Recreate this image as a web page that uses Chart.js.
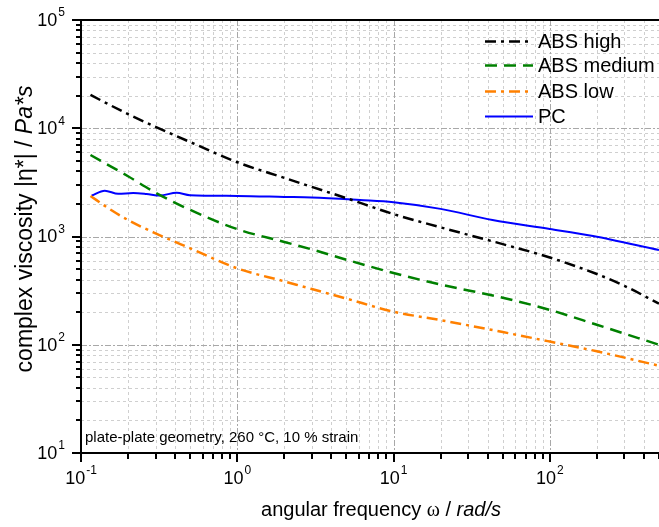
<!DOCTYPE html>
<html><head><meta charset="utf-8">
<script src="https://cdn.jsdelivr.net/npm/chart.js@4.4.0/dist/chart.umd.min.js"></script>
<style>html,body{margin:0;padding:0;background:#fff;overflow:hidden}canvas{display:block}</style>
</head><body>
<canvas id="c" width="659" height="527"></canvas>
<script>
// ---- data ----
const seriesNames = ["ABS high", "ABS medium", "ABS low", "PC"];

const absHighFreq = [0.115, 0.2, 0.3, 0.5, 1, 2, 3, 5, 10, 20, 50, 100, 200, 300, 500];
const absHighVisc = [20300, 13500, 10300, 7450, 4850, 3480, 2870, 2260, 1610, 1215, 850, 640, 450, 350, 240];

const absMedFreq = [0.115, 0.2, 0.3, 0.5, 1, 2, 3, 5, 10, 20, 50, 100, 200, 500];
const absMedVisc = [5660, 3600, 2540, 1760, 1170, 890, 760, 610, 460, 360, 272, 210, 153, 100];

const absLowFreq = [0.115, 0.15, 0.2, 0.3, 0.5, 1, 2, 3, 5, 10, 20, 50, 100, 200, 500];
const absLowVisc = [2370, 1820, 1420, 1070, 778, 508, 385, 327, 267, 202, 169, 131, 107, 87, 64];

const pcFreq = [0.117, 0.142, 0.173, 0.216, 0.263, 0.32, 0.409, 0.498, 1, 2, 3, 6.1, 10, 20, 43, 100, 189, 500];
const pcVisc = [2390, 2650, 2480, 2520, 2470, 2390, 2540, 2410, 2370, 2320, 2290, 2170, 2075, 1800, 1420, 1175, 1010, 750];

const xDecades = [0.1, 1, 10, 100];
const yDecades = [10, 100, 1000, 10000, 100000];
const xTickLabels = [["10", "-1"], ["10", "0"], ["10", "1"], ["10", "2"]];
const yTickLabels = [["10", "1"], ["10", "2"], ["10", "3"], ["10", "4"], ["10", "5"]];

const xTitle = ["angular frequency ", "ω", " / ", "rad/s"];
const yTitle = ["complex viscosity |η*| / ", "Pa*s"];
const noteText = "plate-plate geometry, 260 °C, 10 % strain";

// ---- build ----
function pts(xs, ys) { return xs.map((x, i) => ({ x: x, y: ys[i] })); }

const styles = [
  { color: "#000000", dash: [11, 5, 3, 5] },
  { color: "#008000", dash: [12, 7] },
  { color: "#ff8000", dash: [11, 5, 3, 5] },
  { color: "#0000ff", dash: [] }
];
const seriesData = [pts(absHighFreq, absHighVisc), pts(absMedFreq, absMedVisc), pts(absLowFreq, absLowVisc), pts(pcFreq, pcVisc)];

const datasets = seriesNames.map((n, i) => ({
  label: n,
  data: seriesData[i],
  borderColor: styles[i].color,
  backgroundColor: styles[i].color,
  borderDash: styles[i].dash,
  borderWidth: i === 3 ? 2 : 2.5,
  pointRadius: 0,
  cubicInterpolationMode: "monotone",
  fill: false
}));

function minorValues(lo, hi) {
  const out = [];
  for (let d = lo; d < hi; d *= 10) for (let k = 2; k <= 9; k++) { const v = d * k; if (v <= hi) out.push(v); }
  return out;
}

const FONT = "'Liberation Sans', Arial, sans-serif";

const decor = {
  id: "decor",
  beforeDatasetsDraw(chart) {
    const { ctx, chartArea: a, scales: { x, y } } = chart;
    ctx.save();
    ctx.beginPath(); ctx.rect(a.left, a.top, a.right - a.left, a.bottom - a.top); ctx.clip();
    ctx.lineWidth = 1;
    ctx.strokeStyle = "#cfcfcf"; ctx.setLineDash([3, 3]);
    minorValues(0.1, 500).forEach(v => { const p = Math.round(x.getPixelForValue(v)) + 0.5; ctx.beginPath(); ctx.moveTo(p, a.top); ctx.lineTo(p, a.bottom); ctx.stroke(); });
    minorValues(10, 100000).forEach(v => { const p = Math.round(y.getPixelForValue(v)) + 0.5; ctx.beginPath(); ctx.moveTo(a.left, p); ctx.lineTo(a.right, p); ctx.stroke(); });
    ctx.strokeStyle = "#a8a8a8"; ctx.setLineDash([6, 2, 2, 2]);
    xDecades.forEach(v => { const p = Math.round(x.getPixelForValue(v)) + 0.5; ctx.beginPath(); ctx.moveTo(p, a.top); ctx.lineTo(p, a.bottom); ctx.stroke(); });
    yDecades.forEach(v => { const p = Math.round(y.getPixelForValue(v)) + 0.5; ctx.beginPath(); ctx.moveTo(a.left, p); ctx.lineTo(a.right, p); ctx.stroke(); });
    ctx.restore();
  },
  afterDatasetsDraw(chart) {
    const { ctx, chartArea: a, scales: { x, y } } = chart;
    ctx.save();
    ctx.setLineDash([]);
    ctx.strokeStyle = "#000"; ctx.lineWidth = 2;
    ctx.beginPath(); ctx.moveTo(a.left, a.top); ctx.lineTo(a.left, a.bottom); ctx.lineTo(a.right, a.bottom); ctx.stroke();
    ctx.beginPath(); ctx.moveTo(a.left, a.top); ctx.lineTo(a.right, a.top); ctx.stroke();
    minorValues(0.1, 500).forEach(v => { const p = Math.round(x.getPixelForValue(v)); ctx.beginPath(); ctx.moveTo(p, a.bottom); ctx.lineTo(p, a.bottom + 6); ctx.stroke(); });
    xDecades.forEach(v => { const p = Math.round(x.getPixelForValue(v)); ctx.beginPath(); ctx.moveTo(p, a.bottom); ctx.lineTo(p, a.bottom + 9); ctx.stroke(); });
    minorValues(10, 100000).forEach(v => { const p = Math.round(y.getPixelForValue(v)); ctx.beginPath(); ctx.moveTo(a.left, p); ctx.lineTo(a.left - 5, p); ctx.stroke(); });
    yDecades.forEach(v => { const p = Math.round(y.getPixelForValue(v)); ctx.beginPath(); ctx.moveTo(a.left, p); ctx.lineTo(a.left - 9, p); ctx.stroke(); });
    // tick labels
    ctx.fillStyle = "#000"; ctx.textBaseline = "middle";
    const big = "18px " + FONT, small = "12px " + FONT;
    xDecades.forEach((v, i) => {
      const p = x.getPixelForValue(v);
      ctx.font = big; const w1 = ctx.measureText(xTickLabels[i][0]).width;
      ctx.font = small; const w2 = ctx.measureText(xTickLabels[i][1]).width;
      const left = p - (w1 + w2 + 1) / 2;
      ctx.textAlign = "left";
      ctx.font = big; ctx.fillText(xTickLabels[i][0], left, a.bottom + 26);
      ctx.font = small; ctx.fillText(xTickLabels[i][1], left + w1 + 1, a.bottom + 18);
    });
    yDecades.forEach((v, i) => {
      const p = y.getPixelForValue(v);
      ctx.font = small; const w2 = ctx.measureText(yTickLabels[i][1]).width;
      const right = a.left - 16;
      ctx.textAlign = "right";
      ctx.fillText(yTickLabels[i][1], right, p - 7);
      ctx.font = big; ctx.fillText(yTickLabels[i][0], right - w2 - 1, p + 1);
    });
    // x title
    const tf = "20px " + FONT, tfi = "italic 20px " + FONT, tfs = "20px 'Liberation Serif', 'Times New Roman', serif";
    const parts = [[xTitle[0], tf], [xTitle[1], tfs], [xTitle[2], tf], [xTitle[3], tfi]];
    let tot = 0; parts.forEach(pp => { ctx.font = pp[1]; tot += ctx.measureText(pp[0]).width; });
    let cx = 381 - tot / 2; ctx.textAlign = "left"; ctx.textBaseline = "alphabetic";
    parts.forEach(pp => { ctx.font = pp[1]; ctx.fillText(pp[0], cx, 516); cx += ctx.measureText(pp[0]).width; });
    // y title (rotated)
    ctx.save();
    ctx.translate(32, 229); ctx.rotate(-Math.PI / 2);
    const yf = "23px " + FONT, yfi = "italic 23px " + FONT;
    ctx.font = yf; const yw1 = ctx.measureText(yTitle[0]).width;
    ctx.font = yfi; const yw2 = ctx.measureText(yTitle[1]).width;
    let sx = -(yw1 + yw2) / 2;
    ctx.font = yf; ctx.fillText(yTitle[0], sx, 0);
    ctx.font = yfi; ctx.fillText(yTitle[1], sx + yw1, 0);
    ctx.restore();
    // note
    ctx.font = "15px " + FONT; ctx.textAlign = "left"; ctx.textBaseline = "alphabetic";
    ctx.fillText(noteText, a.left + 4, 442);
    // legend
    const rows = [41, 65, 91, 116];
    chart.data.datasets.forEach((ds, i) => {
      ctx.strokeStyle = ds.borderColor; ctx.lineWidth = ds.borderWidth; ctx.setLineDash(ds.borderDash);
      ctx.beginPath(); ctx.moveTo(485, rows[i] + 0.5); ctx.lineTo(533, rows[i] + 0.5); ctx.stroke();
      ctx.setLineDash([]);
      ctx.fillStyle = "#000"; ctx.font = "20px " + FONT; ctx.textBaseline = "middle";
      ctx.fillText(ds.label, 538, rows[i] + 1);
    });
    ctx.restore();
  }
};

new Chart(document.getElementById("c"), {
  type: "line",
  data: { datasets: datasets },
  options: {
    responsive: false,
    animation: false,
    devicePixelRatio: 1,
    layout: { padding: { left: 81, top: 20, right: 0, bottom: 74 } },
    plugins: { legend: { display: false }, tooltip: { enabled: false } },
    scales: {
      x: { type: "logarithmic", min: 0.1, max: 500, display: false },
      y: { type: "logarithmic", min: 10, max: 100000, display: false }
    }
  },
  plugins: [decor]
});
</script>
</body></html>
